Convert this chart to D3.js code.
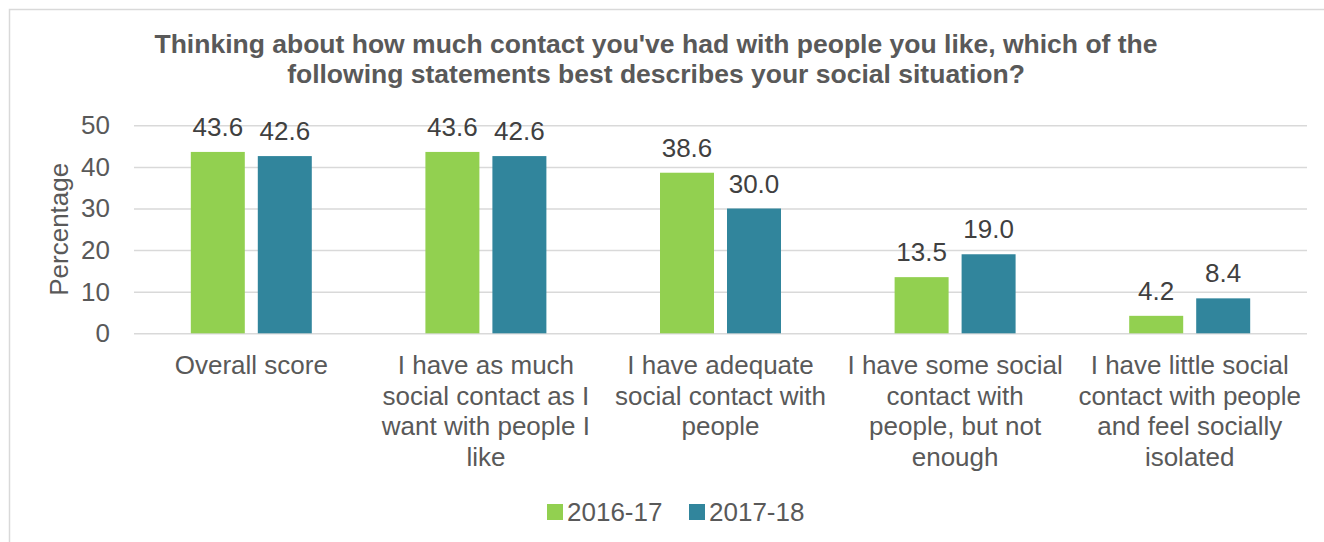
<!DOCTYPE html>
<html>
<head>
<meta charset="utf-8">
<script src="https://cdn.jsdelivr.net/npm/d3@7"></script>
<style>
  html, body { margin: 0; padding: 0; background: #fff; }
  svg { display: block; font-family: "Liberation Sans", Arial, sans-serif; }
</style>
</head>
<body>
<svg id="chart" width="1324" height="542"></svg>
<script>
// Survey categories (wrapped into display lines)
const categories = [
  ["Overall score"],
  ["I have as much", "social contact as I", "want with people I", "like"],
  ["I have adequate", "social contact with", "people"],
  ["I have some social", "contact with", "people, but not", "enough"],
  ["I have little social", "contact with people", "and feel socially", "isolated"]
];
const seriesNames = ["2016-17", "2017-18"];
const values2016 = [43.6, 43.6, 38.6, 13.5, 4.2];
const values2017 = [42.6, 42.6, 30.0, 19.0, 8.4];
const yTicks = [0, 10, 20, 30, 40, 50];
const titleLines = [
  "Thinking about how much contact you've had with people you like, which of the",
  "following statements best describes your social situation?"
];
const yAxisTitle = "Percentage";

const colors = { "2016-17": "#92D050", "2017-18": "#31859C" };
const seriesValues = { "2016-17": values2016, "2017-18": values2017 };

const svg = d3.select("#chart");

// Outer chart frame
svg.append("rect")
  .attr("x", 9.5).attr("y", 9.5)
  .attr("width", 1400).attr("height", 600)
  .attr("fill", "none").attr("stroke", "#D9D9D9").attr("stroke-width", 1.5);

const plot = { left: 134, right: 1307, top: 125.3, bottom: 333.3 };

const x0 = d3.scaleBand()
  .domain(d3.range(categories.length))
  .range([plot.left, plot.right])
  .paddingInner(0).paddingOuter(0);

const x1 = d3.scaleBand()
  .domain(seriesNames)
  .range([0, x0.bandwidth()])
  .paddingInner(0.194)
  .paddingOuter(0.848);

const y = d3.scaleLinear().domain([0, 50]).range([plot.bottom, plot.top]);

// Gridlines
const grid = svg.append("g")
  .attr("transform", `translate(${plot.left},0)`)
  .call(d3.axisLeft(y).tickValues(yTicks).tickSize(-(plot.right - plot.left)).tickFormat(""));
grid.select(".domain").remove();
grid.selectAll(".tick line").attr("stroke", "#D9D9D9").attr("stroke-width", 1.5);

// Y tick labels
const yAxis = svg.append("g")
  .attr("transform", `translate(${plot.left - 24},0)`)
  .call(d3.axisLeft(y).tickValues(yTicks).tickSize(0).tickPadding(0).tickFormat(d3.format("d")));
yAxis.select(".domain").remove();
yAxis.selectAll("text")
  .attr("font-size", 26).attr("fill", "#595959")
  .attr("font-family", "Liberation Sans, Arial, sans-serif");

// Y axis title
svg.append("text")
  .attr("transform", `translate(68,${(plot.top + plot.bottom) / 2}) rotate(-90)`)
  .attr("text-anchor", "middle")
  .attr("font-size", 26).attr("fill", "#595959")
  .text(yAxisTitle);

// Bars
const groups = svg.append("g").selectAll("g")
  .data(categories.map((c, i) => i))
  .join("g")
  .attr("transform", i => `translate(${x0(i)},0)`);

groups.selectAll("rect")
  .data(i => seriesNames.map(s => ({ s, v: seriesValues[s][i] })))
  .join("rect")
  .attr("x", d => x1(d.s))
  .attr("y", d => y(d.v))
  .attr("width", x1.bandwidth())
  .attr("height", d => y(0) - y(d.v))
  .attr("fill", d => colors[d.s]);

// Value labels
groups.selectAll("text.val")
  .data(i => seriesNames.map(s => ({ s, v: seriesValues[s][i] })))
  .join("text")
  .attr("class", "val")
  .attr("x", d => x1(d.s) + x1.bandwidth() / 2)
  .attr("y", d => y(d.v) - 16)
  .attr("text-anchor", "middle")
  .attr("font-size", 26).attr("fill", "#404040")
  .text(d => d3.format(".1f")(d.v));

// Category labels
const xAxis = svg.append("g")
  .attr("transform", `translate(0,${plot.bottom})`)
  .call(d3.axisBottom(x0).tickSize(0).tickFormat(""));
xAxis.select(".domain").remove();
xAxis.selectAll(".tick").each(function(i) {
  const t = d3.select(this).select("text")
    .attr("y", 0).attr("dy", null)
    .attr("font-size", 26).attr("fill", "#595959")
    .attr("font-family", "Liberation Sans, Arial, sans-serif");
  categories[i].forEach((line, k) => {
    t.append("tspan").attr("x", 0).attr("y", 41 + k * 30.5).text(line);
  });
});

// Title
const title = svg.append("text")
  .attr("text-anchor", "middle")
  .attr("font-size", 26.5).attr("font-weight", "bold").attr("fill", "#595959");
titleLines.forEach((line, k) => {
  title.append("tspan").attr("x", 656).attr("y", 53 + k * 30).text(line);
});

// Legend
const legend = svg.append("g").attr("transform", "translate(547,504)");
const legendOffsets = [0, 142];
seriesNames.forEach((s, k) => {
  const g = legend.append("g").attr("transform", `translate(${legendOffsets[k]},0)`);
  g.append("rect").attr("width", 16).attr("height", 16).attr("fill", colors[s]);
  g.append("text").attr("x", 20).attr("y", 17)
    .attr("font-size", 26).attr("fill", "#595959").text(s);
});
</script>
</body>
</html>
